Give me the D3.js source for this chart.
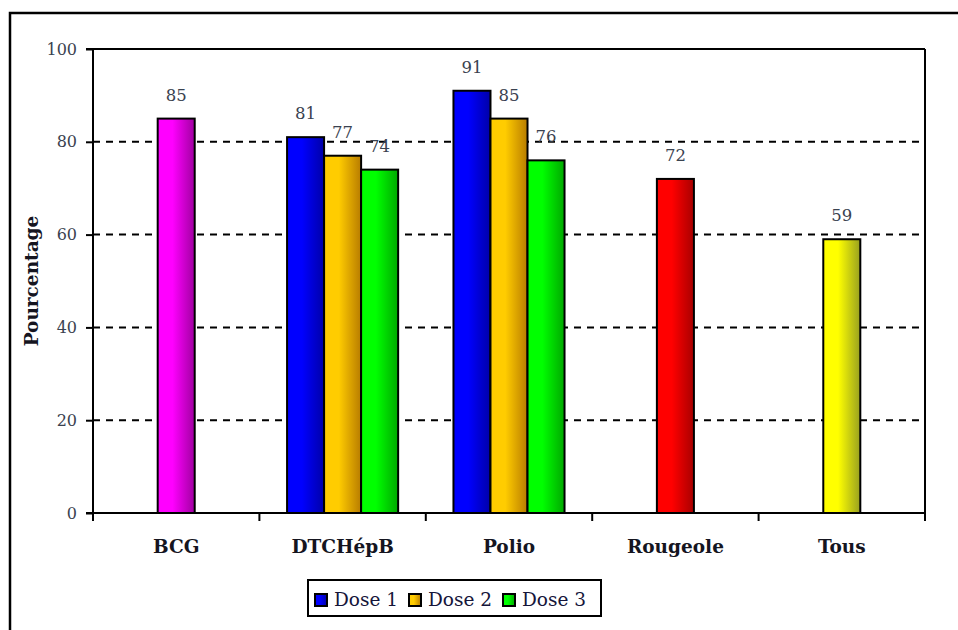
<!DOCTYPE html>
<html>
<head>
<meta charset="utf-8">
<script src="https://cdn.jsdelivr.net/npm/d3@7"></script>
<style>
html,body{margin:0;padding:0;background:#fff;}
svg{display:block;}
</style>
</head>
<body>
<svg id="chart" width="958" height="630"></svg>
<script>
const categories = ["BCG", "DTCHépB", "Polio", "Rougeole", "Tous"];
const doseNames = ["Dose 1", "Dose 2", "Dose 3"];
const dose1 = [null, 81, 91, null, null];
const dose2 = [null, 77, 85, null, null];
const dose3 = [null, 74, 76, null, null];
const singleValues = [85, null, null, 72, 59];
const yTicks = [0, 20, 40, 60, 80, 100];
const yTitle = "Pourcentage";

const doseColors = [["#0000ff", "#0000a8"], ["#ffcc00", "#b87c00"], ["#00ff00", "#00a800"]];
const singleColors = [["#ff00ff", "#a000a0"], null, null, ["#ff0000", "#a80000"], ["#ffff00", "#98a020"]];

const svg = d3.select("#chart");
const W = 958, H = 630;
const m = {left: 93, right: 925, top: 49, bottom: 513};
const serif = "'DejaVu Serif', serif";

// outer frame
svg.append("path").attr("d", `M10,${H+5}V13H${W+5}`).attr("fill", "none").attr("stroke", "#000").attr("stroke-width", 2.5);

const x = d3.scaleBand().domain(categories).range([m.left, m.right]).paddingInner(0).paddingOuter(0);
const y = d3.scaleLinear().domain([0, 100]).range([m.bottom, m.top]);
const barW = x.bandwidth() * 0.2225;

// gradients
const defs = svg.append("defs");
function grad(id, c) {
  const g = defs.append("linearGradient").attr("id", id).attr("x1", "0%").attr("x2", "100%").attr("y1", "0%").attr("y2", "0%");
  g.append("stop").attr("offset", "0%").attr("stop-color", c[0]);
  g.append("stop").attr("offset", "40%").attr("stop-color", c[0]);
  g.append("stop").attr("offset", "100%").attr("stop-color", c[1]);
}
doseColors.forEach((c, i) => grad("gd" + i, c));
singleColors.forEach((c, i) => { if (c) grad("gs" + i, c); });

// gridlines
svg.append("g").selectAll("line").data(yTicks.filter(t => t > 0 && t < 100)).join("line")
  .attr("x1", m.left).attr("x2", m.right).attr("y1", d => y(d)).attr("y2", d => y(d))
  .attr("stroke", "#000").attr("stroke-width", 2).attr("stroke-dasharray", "7,6");

// y axis
const yAxis = svg.append("g").attr("transform", `translate(${m.left},0)`)
  .call(d3.axisLeft(y).tickValues(yTicks).tickSize(7).tickPadding(9));
yAxis.select(".domain").remove();
yAxis.selectAll(".tick line").attr("stroke", "#000").attr("stroke-width", 2);
yAxis.selectAll(".tick text").attr("font-family", serif).attr("font-size", 16).attr("fill", "#3a4250");

// bars
const doseSeries = [dose1, dose2, dose3];
const sub = d3.scaleBand().domain([0, 1, 2]).range([-1.5 * barW, 1.5 * barW]);
const barData = [];
categories.forEach((cat, ci) => {
  const cx = x(cat) + x.bandwidth() / 2;
  if (singleValues[ci] != null) {
    barData.push({x0: cx - barW / 2, v: singleValues[ci], fill: "url(#gs" + ci + ")"});
  }
  doseSeries.forEach((s, si) => {
    if (s[ci] != null) barData.push({x0: cx + sub(si), v: s[ci], fill: "url(#gd" + si + ")"});
  });
});
const gBars = svg.append("g");
gBars.selectAll("rect").data(barData).join("rect")
  .attr("x", d => d.x0).attr("y", d => y(d.v)).attr("width", barW).attr("height", d => y(0) - y(d.v))
  .attr("fill", d => d.fill).attr("stroke", "#000").attr("stroke-width", 2);
gBars.selectAll("text").data(barData).join("text")
  .attr("x", d => d.x0 + barW / 2).attr("y", d => y(d.v) - 18)
  .attr("text-anchor", "middle").attr("font-family", serif).attr("font-size", 16.5).attr("fill", "#3a4250")
  .text(d => d.v);

// plot frame lines
svg.append("line").attr("x1", m.left - 7).attr("x2", m.right).attr("y1", m.top).attr("y2", m.top).attr("stroke", "#000").attr("stroke-width", 2);
svg.append("line").attr("x1", m.right).attr("x2", m.right).attr("y1", m.top).attr("y2", m.bottom + 8).attr("stroke", "#000").attr("stroke-width", 2);
svg.append("line").attr("x1", m.left).attr("x2", m.left).attr("y1", m.top).attr("y2", m.bottom + 8).attr("stroke", "#000").attr("stroke-width", 2);
svg.append("line").attr("x1", m.left - 7).attr("x2", m.right).attr("y1", m.bottom).attr("y2", m.bottom).attr("stroke", "#000").attr("stroke-width", 2);

// x axis
const xAxis = svg.append("g").attr("transform", `translate(0,${m.bottom})`)
  .call(d3.axisBottom(x).tickSize(0).tickPadding(27));
xAxis.select(".domain").remove();
xAxis.selectAll(".tick text").attr("font-family", serif).attr("font-size", 18.5).attr("font-weight", "bold").attr("fill", "#15151f");
svg.append("g").selectAll("line").data(categories.slice(1)).join("line")
  .attr("x1", d => x(d)).attr("x2", d => x(d)).attr("y1", m.bottom).attr("y2", m.bottom + 8)
  .attr("stroke", "#000").attr("stroke-width", 2);

// y title
svg.append("text").attr("transform", "translate(38,281) rotate(-90)")
  .attr("text-anchor", "middle").attr("font-family", serif).attr("font-size", 18.5).attr("font-weight", "bold").attr("fill", "#15151f")
  .text(yTitle);

// legend
const leg = svg.append("g");
leg.append("rect").attr("x", 308).attr("y", 580).attr("width", 293).attr("height", 36)
  .attr("fill", "#fff").attr("stroke", "#000").attr("stroke-width", 2);
const legX = [315, 409, 503];
doseNames.forEach((n, i) => {
  leg.append("rect").attr("x", legX[i]).attr("y", 594).attr("width", 12).attr("height", 12)
    .attr("fill", "url(#gd" + i + ")").attr("stroke", "#000").attr("stroke-width", 2);
  leg.append("text").attr("x", legX[i] + 19).attr("y", 606).attr("font-family", serif).attr("font-size", 18.5)
    .attr("fill", "#15153a").text(n);
});
</script>
</body>
</html>
